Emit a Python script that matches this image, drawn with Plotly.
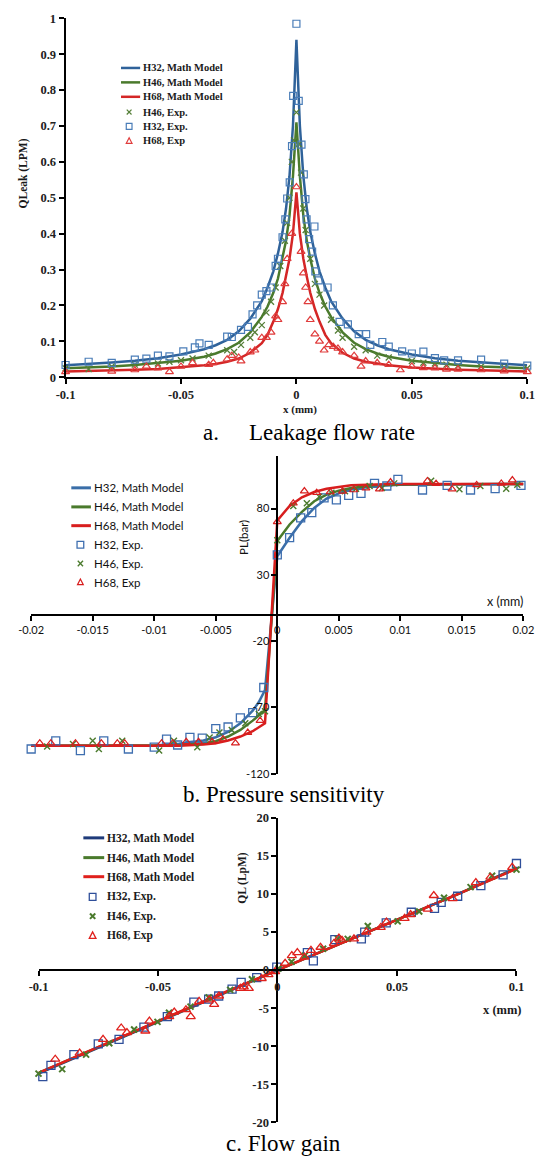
import plotly.graph_objects as go

W, H = 544, 1162

# ---------------- (a) Leakage flow rate ----------------
a_x_model = [-0.1, -0.09, -0.08, -0.07, -0.06, -0.05, -0.04, -0.035, -0.03, -0.025, -0.02, -0.015,
             -0.0125, -0.01, -0.008, -0.006, -0.0045, -0.003, -0.0015, 0,
             0.0015, 0.003, 0.0045, 0.006, 0.008, 0.01, 0.0125, 0.015, 0.02, 0.025, 0.03, 0.035,
             0.04, 0.05, 0.06, 0.07, 0.08, 0.09, 0.1]
a_h32_model = [0.033, 0.036, 0.041, 0.046, 0.053, 0.063, 0.078, 0.089, 0.104, 0.128, 0.163, 0.212,
               0.25, 0.295, 0.345, 0.405, 0.47, 0.56, 0.70, 0.94,
               0.70, 0.56, 0.47, 0.405, 0.345, 0.295, 0.25, 0.212, 0.163, 0.128, 0.104, 0.089,
               0.078, 0.063, 0.053, 0.046, 0.041, 0.036, 0.033]
a_h46_model = [0.025, 0.027, 0.030, 0.034, 0.039, 0.046, 0.057, 0.066, 0.078, 0.096, 0.125, 0.168,
               0.197, 0.235, 0.275, 0.33, 0.38, 0.45, 0.56, 0.71,
               0.56, 0.45, 0.38, 0.33, 0.275, 0.235, 0.197, 0.168, 0.125, 0.096, 0.078, 0.066,
               0.057, 0.046, 0.039, 0.034, 0.030, 0.027, 0.025]
a_h68_model = [0.016, 0.017, 0.019, 0.021, 0.023, 0.027, 0.033, 0.037, 0.043, 0.052, 0.068, 0.095,
               0.118, 0.155, 0.19, 0.235, 0.28, 0.33, 0.40, 0.515,
               0.40, 0.33, 0.28, 0.235, 0.19, 0.155, 0.118, 0.095, 0.068, 0.052, 0.043, 0.037,
               0.033, 0.027, 0.023, 0.021, 0.019, 0.017, 0.016]

a_h32_exp_x = [-0.1, -0.09, -0.08, -0.07, -0.065, -0.06, -0.055, -0.049, -0.044, -0.042, -0.038, -0.03,
               -0.028, -0.024, -0.021, -0.019, -0.017, -0.015, -0.013, -0.011, -0.009, -0.008, -0.006,
               -0.0048, -0.004, -0.0029, -0.0019, -0.0014, 0, 0.001, 0.0022, 0.0032, 0.0039, 0.0044,
               0.0055, 0.0068, 0.0078, 0.0082, 0.0096, 0.0135, 0.0158, 0.0187, 0.0223, 0.027, 0.0302,
               0.032, 0.0372, 0.04, 0.0458, 0.05, 0.055, 0.06, 0.064, 0.07, 0.08, 0.09, 0.1]
a_h32_exp_y = [0.034, 0.043, 0.040, 0.049, 0.052, 0.060, 0.058, 0.072, 0.083, 0.094, 0.090, 0.113,
               0.112, 0.132, 0.140, 0.175, 0.200, 0.230, 0.240, 0.250, 0.310, 0.330, 0.390,
               0.440, 0.498, 0.543, 0.644, 0.784, 0.985, 0.770, 0.648, 0.565, 0.496, 0.440,
               0.385, 0.350, 0.420, 0.295, 0.270, 0.250, 0.200, 0.154, 0.147, 0.120, 0.120,
               0.090, 0.098, 0.085, 0.072, 0.066, 0.071, 0.053, 0.047, 0.047, 0.049, 0.038, 0.032]
a_h46_exp_x = [-0.1, -0.09, -0.08, -0.07, -0.06, -0.055, -0.05, -0.045, -0.038, -0.03, -0.027, -0.024,
               -0.02, -0.018, -0.015, -0.013, -0.011, -0.009, -0.007, -0.005, -0.004, -0.003, -0.002,
               -0.001, 0, 0.001, 0.002, 0.003, 0.004, 0.006, 0.008, 0.01, 0.012, 0.015, 0.018, 0.02,
               0.025, 0.03, 0.035, 0.04, 0.05, 0.055, 0.06, 0.065, 0.07, 0.08, 0.09, 0.1]
a_h46_exp_y = [0.025, 0.023, 0.030, 0.035, 0.038, 0.043, 0.047, 0.052, 0.060, 0.075, 0.070, 0.090,
               0.110, 0.125, 0.145, 0.180, 0.210, 0.250, 0.310, 0.380, 0.430, 0.500, 0.600,
               0.660, 0.738, 0.650, 0.570, 0.470, 0.410, 0.330, 0.260, 0.230, 0.200, 0.160, 0.130, 0.110,
               0.085, 0.075, 0.060, 0.055, 0.045, 0.040, 0.038, 0.035, 0.032, 0.030, 0.027, 0.025]
a_h68_exp_x = [-0.1, -0.08, -0.07, -0.065, -0.06, -0.055, -0.05, -0.045, -0.038, -0.036, -0.03, -0.028,
               -0.025, -0.024, -0.02, -0.018, -0.015, -0.013, -0.011, -0.009, -0.008, -0.006, -0.005,
               -0.004, -0.002, 0, 0.002, 0.003, 0.004, 0.005, 0.006, 0.008, 0.01, 0.012, 0.014, 0.016,
               0.018, 0.02, 0.025, 0.028, 0.03, 0.035, 0.04, 0.045, 0.05, 0.055, 0.06, 0.065, 0.07,
               0.08, 0.09, 0.1]
a_h68_exp_y = [0.015, 0.016, 0.020, 0.030, 0.025, 0.015, 0.030, 0.040, 0.035, 0.040, 0.050, 0.060,
               0.055, 0.045, 0.070, 0.075, 0.110, 0.110, 0.125, 0.170, 0.160, 0.210, 0.260,
               0.330, 0.400, 0.530, 0.350, 0.290, 0.250, 0.210, 0.160, 0.120, 0.100, 0.075, 0.090, 0.085,
               0.080, 0.070, 0.060, 0.030, 0.045, 0.040, 0.035, 0.020, 0.030, 0.026, 0.025, 0.022, 0.022,
               0.020, 0.017, 0.015]

a_xtick_vals = [-0.1, -0.05, 0, 0.05, 0.1]
a_xtick_text = ["-0.1", "-0.05", "0", "0.05", "0.1"]
a_ytick_vals = [0, 0.1, 0.2, 0.3, 0.4, 0.5, 0.6, 0.7, 0.8, 0.9, 1]
a_ytick_text = ["0", "0.1", "0.2", "0.3", "0.4", "0.5", "0.6", "0.7", "0.8", "0.9", "1"]

# ---------------- (b) Pressure sensitivity ----------------
b_x_model = [-0.02, -0.015, -0.01, -0.008, -0.006, -0.005, -0.004, -0.003, -0.002, -0.0015, -0.001,
             0, 0.001, 0.002, 0.003, 0.004, 0.005, 0.006, 0.008, 0.01, 0.015, 0.02]
b_h32_model = [-99, -99, -98.8, -97.5, -95, -92.5, -88.5, -82, -72.5, -66, -57,
               44, 58, 70.5, 80.5, 87.5, 91.5, 94.5, 97, 98, 98.5, 98.5]
b_h46_model = [-99, -99, -99, -98.5, -97, -95.5, -92, -87, -80, -76, -72,
               55.6, 68, 77.5, 85.5, 90.5, 93.5, 95.5, 97.5, 98.2, 98.5, 98.5]
b_h68_model = [-99, -99, -99, -99, -98, -97, -95, -92, -88, -85, -82,
               71, 82, 88.5, 92.5, 95, 96.5, 97.5, 98.2, 98.5, 98.5, 98.5]

b_h32_exp_x = [-0.02, -0.018, -0.016, -0.0141, -0.0121, -0.01, -0.009, -0.0081, -0.0071, -0.0061,
               -0.005, -0.004, -0.003, -0.002, -0.0011, 0, 0.001, 0.0019, 0.0028, 0.0038, 0.0048,
               0.0058, 0.0068, 0.0079, 0.0089, 0.0098, 0.0118, 0.0138, 0.0157, 0.0177, 0.0198]
b_h32_exp_y = [-101.4, -95.2, -102.6, -95.2, -101.4, -100, -94, -98.4, -92.7, -93.2,
               -86, -84.8, -77.9, -74, -55, 45, 58, 73, 77, 88, 86.5,
               90, 91.5, 99, 97, 102, 94, 97.5, 94, 95, 97.5]
b_h46_exp_x = [-0.0187, -0.0166, -0.015, -0.0145, -0.0126, -0.0096, -0.0084, -0.0065, -0.0055,
               -0.0047, -0.0037, -0.0026, -0.0015, -0.001, 0, 0.0013, 0.0024, 0.0034, 0.0044,
               0.0055, 0.0064, 0.0075, 0.0085, 0.0095, 0.0125, 0.0148, 0.0165, 0.0186, 0.0195]
b_h46_exp_y = [-99.6, -97.6, -95.2, -101.4, -95.2, -102.6, -95.2, -100, -92.7,
               -89, -87, -82, -75, -73, 56, 82, 84, 89, 92,
               93, 95, 97, 95.5, 99, 101, 94.5, 97, 95, 98]
b_h68_exp_x = [-0.0193, -0.0184, -0.0164, -0.0143, -0.013, -0.0124, -0.0094, -0.0085, -0.0074,
               -0.0064, -0.0053, -0.0044, -0.0034, -0.0024, -0.0014, 0, 0.0013, 0.0022, 0.0032,
               0.0043, 0.0053, 0.0062, 0.0072, 0.0083, 0.0092, 0.0122, 0.0129, 0.0142, 0.0162,
               0.0182, 0.0191]
b_h68_exp_y = [-97, -97, -97, -97, -97, -97, -97, -97, -96,
               -96, -96, -94, -97, -89, -80, 70, 84, 93.2, 92,
               92.5, 93, 94, 95.4, 94.6, 100, 100.8, 98.8, 94.6, 97.8,
               99, 101.5]

b_xtick_vals = [-0.02, -0.015, -0.01, -0.005, 0, 0.005, 0.01, 0.015, 0.02]
b_xtick_text = ["-0.02", "-0.015", "-0.01", "-0.005", "0", "0.005", "0.01", "0.015", "0.02"]
b_ytick_vals = [-120, -70, -20, 30, 80]
b_ytick_text = ["-120", "-70", "-20", "30", "80"]

# ---------------- (c) Flow gain ----------------
c_x_model = [-0.1, -0.075, -0.05, -0.025, 0, 0.025, 0.05, 0.075, 0.1]
c_h32_model = [-13.6, -10.2, -6.7, -3.4, 0, 3.3, 6.6, 9.9, 13.4]
c_h46_model = [-13.5, -10.1, -6.65, -3.35, 0, 3.3, 6.6, 9.9, 13.35]
c_h68_model = [-13.5, -10.1, -6.6, -3.3, 0, 3.3, 6.55, 9.9, 13.3]

c_h32_exp_x = [-0.0982, -0.0948, -0.0852, -0.075, -0.0663, -0.0559, -0.0461, -0.035, -0.0288,
               -0.0246, -0.019, -0.0152, -0.0087, -0.0003, 0.0125, 0.015, 0.024, 0.0351, 0.0365,
               0.0455, 0.056, 0.0657, 0.0685, 0.0754, 0.0851, 0.0944, 0.1]
c_h32_exp_y = [-14, -12.5, -11.1, -9.7, -9.1, -7.5, -6.1, -4.2, -3.8,
               -3.4, -2.5, -1.6, -1.0, 0.4, 2.3, 1.2, 4.0, 4.1, 5.0,
               6.2, 7.6, 8.1, 8.9, 9.7, 11.1, 12.5, 14]
c_h46_exp_x = [-0.1, -0.0901, -0.0801, -0.0704, -0.06, -0.0502, -0.0454, -0.0364, -0.0288, -0.0198,
               -0.0107, 0.0004, 0.0059, 0.0114, 0.0191, 0.0253, 0.0294, 0.0378, 0.0503, 0.0593,
               0.0697, 0.0808, 0.0898, 0.1]
c_h46_exp_y = [-13.6, -13, -11.1, -9.6, -7.8, -6.8, -5.6, -4.8, -3.6, -2.6,
               -1.2, 0.2, 1.1, 1.9, 2.8, 4.1, 4.1, 5.8, 6.4, 7.7,
               9.5, 10.9, 12.4, 13.2]
c_h68_exp_x = [-0.093, -0.0828, -0.073, -0.0654, -0.063, -0.0553, -0.0536, -0.0453, -0.0432, -0.0383,
               -0.0363, -0.0328, -0.0286, -0.0265, -0.0245, -0.0155, -0.0141, -0.012, -0.0066,
               -0.0038, -0.001, 0.0032, 0.006, 0.0083, 0.0113, 0.014, 0.018, 0.0236, 0.0257, 0.027,
               0.032, 0.0372, 0.0432, 0.0456, 0.0532, 0.0557, 0.0629, 0.0654, 0.0733, 0.083, 0.0891,
               0.0982]
c_h68_exp_y = [-11.7, -10.9, -9.1, -7.6, -8.2, -8.0, -6.7, -6.1, -5.5, -5.2,
               -6.1, -4.1, -3.9, -4.5, -3.4, -2.4, -2.2, -2.4, -1.1,
               -0.6, -0.2, 0.9, 1.9, 2.3, 1.7, 2.6, 3.0, 3.5, 4.2, 3.9,
               4.1, 5.0, 5.6, 6.3, 6.8, 7.3, 8.0, 9.8, 9.4, 11.5, 12.2,
               13.5]

c_xtick_vals = [-0.1, -0.05, 0, 0.05, 0.1]
c_xtick_text = ["-0.1", "-0.05", "0", "0.05", "0.1"]
c_ytick_vals = [-20, -15, -10, -5, 0, 5, 10, 15, 20]
c_ytick_text = ["-20", "-15", "-10", "-5", "0", "5", "10", "15", "20"]

legend_a = ["H32, Math Model", "H46, Math Model", "H68, Math Model", "H46, Exp.", "H32, Exp.", "H68, Exp"]
legend_bc = ["H32, Math Model", "H46, Math Model", "H68, Math Model", "H32, Exp.", "H46, Exp.", "H68, Exp"]

# ---------------- styling ----------------
SERIF = "Liberation Serif"
SANS = "Lato"

A_BLUE, A_GREEN, A_RED = "#2F629A", "#4A7A2C", "#D42626"
A_BLUE_M, A_GREEN_M, A_RED_M = "#4A7DB8", "#557F38", "#E03C3C"
B_BLUE, B_GREEN, B_RED = "#3A6EA8", "#4A7A2C", "#D81E1E"
B_BLUE_M = "#3F6FB0"
C_BLUE, C_GREEN, C_RED = "#1F3B7A", "#4A7A2C", "#E0201C"
C_BLUE_M = "#2F4F9A"


def fx(px):
    return px / W


def fy(py):
    return 1 - py / H


fig = go.Figure()


def add_line(x, y, color, xa, ya, width=2.5):
    fig.add_trace(go.Scatter(x=x, y=y, mode="lines", line=dict(color=color, width=width),
                             xaxis=xa, yaxis=ya, hoverinfo="skip"))


def add_marks(x, y, symbol, color, size, xa, ya, lw=1.3):
    fig.add_trace(go.Scatter(x=x, y=y, mode="markers", cliponaxis=False,
                             marker=dict(symbol=symbol, size=size, color=color,
                                         line=dict(color=color, width=lw)),
                             xaxis=xa, yaxis=ya, hoverinfo="skip"))


# (a)
add_line(a_x_model, a_h32_model, A_BLUE, "x", "y")
add_line(a_x_model, a_h46_model, A_GREEN, "x", "y")
add_line(a_x_model, a_h68_model, A_RED, "x", "y")
add_marks(a_h46_exp_x, a_h46_exp_y, "x-thin", A_GREEN_M, 6, "x", "y", 1.3)
add_marks(a_h32_exp_x, a_h32_exp_y, "square-open", A_BLUE_M, 7, "x", "y", 1.2)
add_marks(a_h68_exp_x, a_h68_exp_y, "triangle-up-open", A_RED_M, 7, "x", "y", 1.2)

# (b)
add_line(b_x_model, b_h32_model, B_BLUE, "x2", "y2", 2.5)
add_line(b_x_model, b_h46_model, B_GREEN, "x2", "y2", 2.5)
add_line(b_x_model, b_h68_model, B_RED, "x2", "y2", 2.5)
add_marks(b_h32_exp_x, b_h32_exp_y, "square-open", B_BLUE_M, 8, "x2", "y2", 1.3)
add_marks(b_h46_exp_x, b_h46_exp_y, "x-thin", B_GREEN, 6, "x2", "y2", 1.4)
add_marks(b_h68_exp_x, b_h68_exp_y, "triangle-up-open", B_RED, 7, "x2", "y2", 1.2)

# (c)
add_line(c_x_model, c_h32_model, C_BLUE, "x3", "y3", 2.5)
add_line(c_x_model, c_h46_model, C_GREEN, "x3", "y3", 2.5)
add_line(c_x_model, c_h68_model, C_RED, "x3", "y3", 2.5)
add_marks(c_h32_exp_x, c_h32_exp_y, "square-open", C_BLUE_M, 8, "x3", "y3", 1.3)
add_marks(c_h46_exp_x, c_h46_exp_y, "x-thin", C_GREEN, 6, "x3", "y3", 2)
add_marks(c_h68_exp_x, c_h68_exp_y, "triangle-up-open", C_RED, 8, "x3", "y3", 1.3)


def axis(vals, text, font, **kw):
    d = dict(showline=True, linecolor="black", linewidth=2, ticks="outside", ticklen=5,
             tickwidth=2, tickcolor="black", showgrid=False, zeroline=False,
             tickmode="array", tickvals=vals, ticktext=text, tickfont=font, fixedrange=True)
    d.update(kw)
    return d


fa = dict(family=SERIF, size=12.5, color="#222222", weight="bold")
fb = dict(family=SANS, size=11, color="#111111")
fc = dict(family=SERIF, size=12.5, color="#222222", weight="bold")

fig.update_layout(
    width=W, height=H, margin=dict(l=0, r=0, t=0, b=0, pad=0),
    paper_bgcolor="white", plot_bgcolor="rgba(0,0,0,0)", showlegend=False,
    xaxis=axis(a_xtick_vals, a_xtick_text, fa, domain=[fx(55), fx(538)], range=[-0.1, 0.1], anchor="y"),
    yaxis=axis(a_ytick_vals, a_ytick_text, fa, domain=[fy(374.7), fy(11.5)], range=[0, 1], anchor="x"),
    xaxis2=axis(b_xtick_vals, b_xtick_text, fb, domain=[fx(19), fx(534)], range=[-0.02, 0.02],
                anchor="free", position=fy(615)),
    yaxis2=axis(b_ytick_vals, b_ytick_text, fb, domain=[fy(776), fy(454)], range=[-120, 120],
                anchor="free", position=fx(276.7)),
    xaxis3=axis(c_xtick_vals, c_xtick_text, fc, domain=[fx(26.7), fx(526.7)], range=[-0.1, 0.1],
                anchor="free", position=fy(974.8)),
    yaxis3=axis(c_ytick_vals, c_ytick_text, fc, domain=[fy(1129), fy(820.7)], range=[-20, 20],
                anchor="free", position=fx(276.7)),
)

shapes = []
annotations = []


def text(px, py, s, font, xanchor="center", angle=0):
    annotations.append(dict(x=fx(px), y=fy(py), xref="paper", yref="paper", text=s, showarrow=False,
                            xanchor=xanchor, yanchor="middle", font=font, textangle=angle))


def seg(x0, y0, x1, y1, color, width):
    shapes.append(dict(type="line", xref="paper", yref="paper", x0=fx(x0), y0=fy(y0), x1=fx(x1),
                       y1=fy(y1), line=dict(color=color, width=width)))


def sq(cx, cy, s, color, lw):
    shapes.append(dict(type="rect", xref="paper", yref="paper", x0=fx(cx - s / 2), x1=fx(cx + s / 2),
                       y0=fy(cy + s / 2), y1=fy(cy - s / 2), line=dict(color=color, width=lw)))


def cross(cx, cy, s, color, lw):
    seg(cx - s / 2, cy - s / 2, cx + s / 2, cy + s / 2, color, lw)
    seg(cx - s / 2, cy + s / 2, cx + s / 2, cy - s / 2, color, lw)


def tri(cx, cy, s, color, lw):
    p = "M {:.5f},{:.5f} L {:.5f},{:.5f} L {:.5f},{:.5f} Z".format(
        fx(cx), fy(cy - s * 0.55), fx(cx - s / 2), fy(cy + s * 0.4), fx(cx + s / 2), fy(cy + s * 0.4))
    shapes.append(dict(type="path", xref="paper", yref="paper", path=p, line=dict(color=color, width=lw)))


# legend (a)
la_font = dict(family=SERIF, size=10.5, color="#1a1a1a", weight="bold")
la_rows = [61.7, 76.3, 90.9, 106.3, 120.8, 135.6]
seg(113, la_rows[0], 133, la_rows[0], A_BLUE, 2.5)
seg(113, la_rows[1], 133, la_rows[1], A_GREEN, 2.5)
seg(113, la_rows[2], 133, la_rows[2], A_RED, 2.5)
cross(121.5, la_rows[3], 5, A_GREEN_M, 1.2)
sq(121.5, la_rows[4], 6, A_BLUE_M, 1.2)
tri(121.5, la_rows[5], 6, A_RED_M, 1.2)
for i, s in enumerate(legend_a):
    text(133.5, la_rows[i], s, la_font, xanchor="left")

# legend (b)
lb_font = dict(family=SANS, size=11.5, color="#111111")
lb_rows = [486.7, 506.0, 525.0, 544.3, 563.3, 582.3]
seg(61, lb_rows[0], 81.5, lb_rows[0], B_BLUE, 3)
seg(61, lb_rows[1], 81.5, lb_rows[1], B_GREEN, 3)
seg(61, lb_rows[2], 81.5, lb_rows[2], B_RED, 3)
sq(70.5, lb_rows[3], 7, B_BLUE_M, 1.3)
cross(70.5, lb_rows[4], 5.5, B_GREEN, 1.3)
tri(70.5, lb_rows[5], 6, B_RED, 1.2)
for i, s in enumerate(legend_bc):
    text(83, lb_rows[i], s, lb_font, xanchor="left")

# legend (c)
lc_font = dict(family=SERIF, size=11.5, color="#1a1a1a", weight="bold")
lc_rows = [841.0, 861.0, 880.3, 900.7, 920.3, 940.0]
seg(73.6, lc_rows[0], 95.4, lc_rows[0], C_BLUE, 3)
seg(73.6, lc_rows[1], 95.4, lc_rows[1], C_GREEN, 3)
seg(73.6, lc_rows[2], 95.4, lc_rows[2], C_RED, 3)
sq(83.3, lc_rows[3], 7, C_BLUE_M, 1.3)
cross(83.3, lc_rows[4], 5.5, C_GREEN, 2)
tri(83.3, lc_rows[5], 7, C_RED, 1.3)
for i, s in enumerate(legend_bc):
    text(96.5, lc_rows[i], s, lc_font, xanchor="left")

# axis titles
text(12, 168, "QLeak (LPM)", dict(family=SERIF, size=11.5, color="#1a1a1a", weight="bold"), angle=-90)
text(300.7, 407, "x (mm)", dict(family=SERIF, size=11, color="#1a1a1a", weight="bold"))
text(241, 537, "PL(bar)", dict(family=SANS, size=11.5, color="#111111"), angle=-90)
text(515, 602, "x (mm)", dict(family=SANS, size=12.5, color="#111111"))
text(240, 881, "QL (LpM)", dict(family=SERIF, size=11.5, color="#1a1a1a", weight="bold"), angle=-90)
text(511.7, 1015, "x (mm)", dict(family=SERIF, size=12.5, color="#1a1a1a", weight="bold"))

# captions
cap = dict(family=SERIF, size=23, color="black")
text(197, 431, "a.", cap, xanchor="left")
text(245, 431, "Leakage flow rate", cap, xanchor="left")
text(283, 797, "b. Pressure sensitivity", cap)
text(283, 1150, "c. Flow gain", cap)

fig.update_layout(shapes=shapes, annotations=annotations)

fig.write_html("out.html", config={"displayModeBar": False},
               post_script="document.body.style.margin='0';document.body.style.overflow='hidden';")
